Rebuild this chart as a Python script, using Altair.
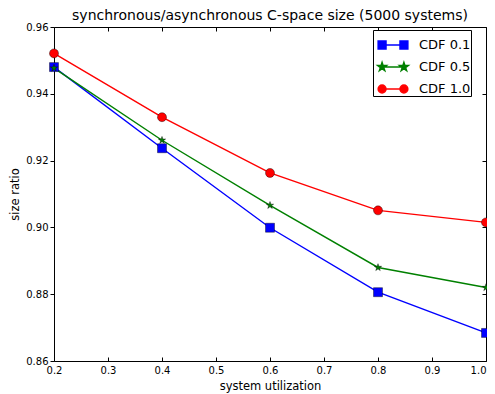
import math
import altair as alt
import pandas as pd

# ---- data ----
utilization = [0.2, 0.4, 0.6, 0.8, 1.0]
cdf_01 = [0.948, 0.9237, 0.8999, 0.8806, 0.8684]
cdf_05 = [0.9477, 0.9261, 0.9066, 0.8880, 0.8820]
cdf_10 = [0.9521, 0.9330, 0.9163, 0.9051, 0.9015]
series_names = ["CDF 0.1", "CDF 0.5", "CDF 1.0"]
series_colors = ["#0000ff", "#008000", "#ff0000"]
x_ticks = [0.2, 0.3, 0.4, 0.5, 0.6, 0.7, 0.8, 0.9, 1.0]
y_ticks = [0.86, 0.88, 0.90, 0.92, 0.94, 0.96]

rows = []
for name, vals in zip(series_names, [cdf_01, cdf_05, cdf_10]):
    for u, v in zip(utilization, vals):
        rows.append({"series": name, "u": u, "ratio": v})
df = pd.DataFrame(rows)


# ---- marker shapes ----
def star_path(cx, r):
    pts = []
    for k in range(10):
        ang = math.radians(-90 + 36 * k)
        rr = r if k % 2 == 0 else r * 0.382
        pts.append((cx + rr * math.cos(ang), rr * math.sin(ang)))
    return "M" + "L".join(f"{x:.3f},{y:.3f}" for x, y in pts) + "Z"


def square_path(cx, h):
    return f"M{cx-h:.3f},{-h:.3f}H{cx+h:.3f}V{h:.3f}H{cx-h:.3f}Z"


def circle_path(cx, h):
    return (f"M{cx+h:.3f},0A{h:.3f},{h:.3f} 0 1,1 {cx-h:.3f},0"
            f"A{h:.3f},{h:.3f} 0 1,1 {cx+h:.3f},0Z")


plot_shapes = ["square", star_path(0, 0.85), "circle"]

SYM = 28            # legend symbol box (px)
c = 0.78            # marker centre in legend units
mh = 0.28           # marker half size in legend units
line_seg = f"M{-c},0H{c}"
legend_shapes = [
    line_seg + square_path(-c, mh) + square_path(c, mh),
    line_seg + star_path(-c, mh * 1.15) + star_path(c, mh * 1.15),
    line_seg + circle_path(-c, mh) + circle_path(c, mh),
]

FONT = "DejaVu Sans"
xs = alt.Scale(domain=[0.2, 1.0], nice=False, zero=False)
ys = alt.Scale(domain=[0.86, 0.96], nice=False, zero=False)
color_scale = alt.Scale(domain=series_names, range=series_colors)

base = alt.Chart(df)

lines = base.mark_line(strokeWidth=1.4).encode(
    x=alt.X("u:Q", scale=xs, axis=alt.Axis(
        orient="bottom", offset=-4, tickSize=4, values=x_ticks, format=".1f",
        title="system utilization", domain=False, grid=False, labelFlush=False,
        labelAlign={"condition": {"test": "datum.value >= 0.99", "value": "right"},
                    "value": "center"},
        labelPadding=4, titlePadding=5)),
    y=alt.Y("ratio:Q", scale=ys, axis=alt.Axis(
        orient="left", offset=0, tickSize=4, values=y_ticks, format=".2f",
        title="size ratio", domain=False, grid=False, labelFlush=False,
        labelPadding=2, titlePadding=5)),
    color=alt.Color("series:N", scale=color_scale, legend=None),
    detail="series:N",
)

points = base.mark_point(filled=True, size=81, opacity=1, stroke="black",
                         strokeWidth=0.4).encode(
    x=alt.X("u:Q", scale=xs, axis=alt.Axis(
        orient="top", offset=-4, tickSize=4, values=x_ticks, labels=False,
        title=None, domain=False, grid=False)),
    y=alt.Y("ratio:Q", scale=ys, axis=alt.Axis(
        orient="right", offset=-4, tickSize=4, values=y_ticks, labels=False,
        title=None, domain=False, grid=False)),
    color=alt.Color("series:N", scale=color_scale, legend=None),
    shape=alt.Shape("series:N", scale=alt.Scale(domain=series_names, range=plot_shapes),
                    legend=None),
)


def leg():
    return alt.Legend(orient="none", legendX=319, legendY=3,
                      symbolSize=SYM * SYM, symbolStrokeWidth=1.5,
                      symbolFillColor="black")


legend_layer = base.transform_filter("false").mark_point(
    filled=True, size=SYM * SYM, opacity=1, strokeWidth=1.5).encode(
    fill=alt.Fill("series:N", scale=color_scale, title=None, legend=leg()),
    stroke=alt.Stroke("series:N", scale=color_scale, title=None, legend=leg()),
    shape=alt.Shape("series:N", scale=alt.Scale(domain=series_names, range=legend_shapes),
                    title=None, legend=leg()),
)

chart = alt.layer(lines, points, legend_layer).resolve_scale(
    shape="independent", fill="independent", stroke="independent"
).resolve_axis(
    x="independent", y="independent"
).properties(
    width=432,
    height=334,
    title=alt.TitleParams(
        "synchronous/asynchronous C-space size (5000 systems)",
        fontSize=14, font=FONT, fontWeight="normal", color="black",
        anchor="middle", offset=-1),
    autosize=alt.AutoSizeParams(type="none"),
    padding={"left": 46, "top": 19, "right": 1, "bottom": 33},
).configure_view(
    stroke="black", strokeWidth=1
).configure_axis(
    labelFont=FONT, titleFont=FONT, labelFontSize=10, titleFontSize=11.5,
    titleFontWeight="normal", labelColor="black", titleColor="black",
    tickColor="black", tickWidth=1,
).configure_legend(
    labelFont=FONT, labelFontSize=13, labelColor="black",
    fillColor="white", strokeColor="black", padding=0, rowPadding=-6,
    columnPadding=0, symbolOffset=5, labelOffset=11, cornerRadius=0,
    symbolSize=SYM * SYM, symbolStrokeWidth=1.5,
)

chart.save("out.html", embed_options={"renderer": "svg", "actions": False})
